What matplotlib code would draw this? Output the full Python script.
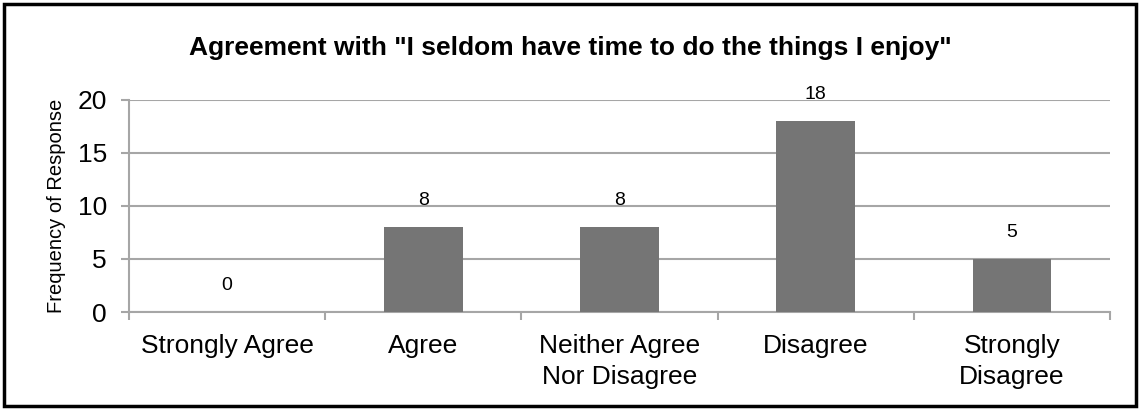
import matplotlib.pyplot as plt
import numpy as np
from matplotlib.patches import Rectangle

plt.rcParams['font.family'] = ['Liberation Sans', 'DejaVu Sans']

# survey responses
categories = ["Strongly Agree", "Agree", "Neither Agree\nNor Disagree", "Disagree", "Strongly\nDisagree"]
counts = [0, 8, 8, 18, 5]
yticks = [0, 5, 10, 15, 20]

grid_col = '#a6a6a6'
bar_col = '#757575'

fig = plt.figure(figsize=(11.4, 4.09), dpi=100)
ax = fig.add_axes([129 / 1140, 1 - 312 / 409, (1110 - 129) / 1140, (312 - 100) / 409])

x = np.arange(len(categories))
ax.bar(x, counts, width=0.4, color=bar_col, zorder=3)

for xi, c in zip(x, counts):
    ax.annotate(str(c), (xi, c), xytext=(0, 19), textcoords='offset points',
                ha='center', va='center', fontsize=14, zorder=4)

ax.set_xlim(-0.5, len(categories) - 0.5)
ax.set_ylim(0, 20)
ax.set_yticks(yticks)
ax.set_yticklabels([str(t) for t in yticks], fontsize=19)
ax.yaxis.grid(True, color=grid_col, linewidth=1.5, zorder=0)

# category labels centred under bars, ticks on the category boundaries
ax.set_xticks(np.arange(len(categories) + 1) - 0.5)
ax.set_xticklabels([])
ax.set_xticks(x, minor=True)
ax.set_xticklabels(categories, minor=True, fontsize=19, linespacing=1.4)
ax.tick_params(axis='x', which='minor', length=0, pad=15.5)
ax.tick_params(axis='x', which='major', length=6, color=grid_col, width=1.5)
ax.tick_params(axis='y', length=6, color=grid_col, width=1.5, pad=10)

for side in ['top', 'right']:
    ax.spines[side].set_visible(False)
for side in ['left', 'bottom']:
    ax.spines[side].set_color(grid_col)
    ax.spines[side].set_linewidth(1.5)

ax.set_ylabel("Frequency of Response", fontsize=14.5)
ax.yaxis.set_label_coords(-(129 - 66) / (1110 - 129), 0.5)

fig.text(0.5, 1 - 48 / 409, 'Agreement with "I seldom have time to do the things I enjoy"',
         ha='center', va='center', fontsize=19, fontweight='bold')

# outer frame
fig.patches.append(Rectangle((4 / 1140, 3 / 409), 1 - 8 / 1140, 1 - 7 / 409,
                             transform=fig.transFigure, fill=False,
                             edgecolor='black', linewidth=2.5))

fig.savefig('out.png', dpi=100)
